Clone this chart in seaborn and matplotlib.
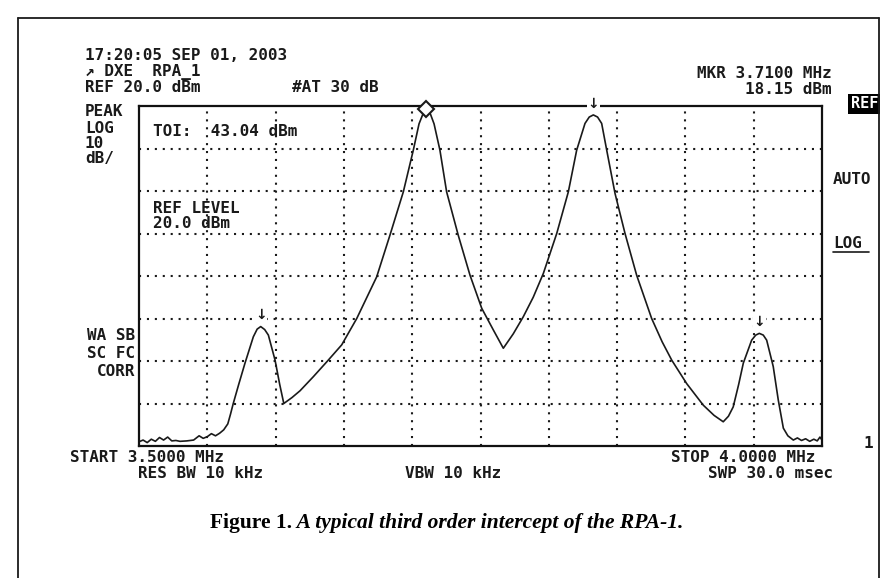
import numpy as np
import pandas as pd
import seaborn as sns
import matplotlib.pyplot as plt
from matplotlib.lines import Line2D
from matplotlib.patches import Rectangle

# analyser settings
START_MHZ = 3.5
STOP_MHZ = 4.0
REF_DBM = 20.0
DB_PER_DIV = 10
N_XDIV = 10
N_YDIV = 8
MKR_MHZ = 3.7100
MKR_DBM = 18.15
TOI_DBM = 43.04

# trace (MHz, dBm)
freq_mhz = [3.500, 3.503, 3.506, 3.509, 3.512, 3.515, 3.518, 3.521, 3.524, 3.527,
            3.530, 3.535, 3.540, 3.544, 3.547, 3.550, 3.553, 3.556, 3.559, 3.562,
            3.565, 3.567, 3.569, 3.573, 3.5776, 3.5837, 3.5865, 3.5891, 3.592, 3.5947,
            3.5996, 3.6030, 3.6060, 3.6120, 3.6179, 3.6276, 3.6380, 3.6484, 3.6594, 3.674,
            3.6837, 3.6935, 3.7008, 3.7050, 3.7082, 3.7106, 3.7130, 3.7160, 3.7203, 3.7252,
            3.7337, 3.7423, 3.7509, 3.7594, 3.7667, 3.7740, 3.7813, 3.7886, 3.796, 3.8058,
            3.8143, 3.8204, 3.8265, 3.8296, 3.8326, 3.8357, 3.8387, 3.8424, 3.8485, 3.8558,
            3.8643, 3.8753, 3.8830, 3.8900, 3.9009, 3.9131, 3.9210, 3.9277, 3.9315, 3.9350,
            3.9390, 3.9424, 3.9485, 3.9515, 3.9541, 3.9570, 3.9595, 3.9643, 3.9680, 3.9717,
            3.9750, 3.9790, 3.9820, 3.9850, 3.9880, 3.9910, 3.9940, 3.9965, 3.9985, 4.000]
level_dbm = [-59.0, -58.6, -59.2, -58.4, -58.9, -58.0, -58.6, -57.9, -58.8, -58.7,
             -58.9, -58.8, -58.6, -57.6, -58.2, -57.8, -57.1, -57.6, -57.0, -56.2,
             -54.8, -52.5, -50.0, -45.5, -40.5, -34.3, -32.5, -31.9, -32.6, -33.9,
             -39.8, -45.5, -50.0, -48.6, -47.0, -43.7, -40.0, -36.2, -30.0, -20.2,
             -10.4, -0.2, 9.6, 15.8, 18.4, 19.2, 18.4, 15.8, 9.6, -0.2,
             -10.4, -19.8, -27.6, -32.7, -37.0, -33.6, -29.6, -25.0, -19.4, -10.0,
             -0.2, 9.6, 15.9, 17.4, 17.9, 17.4, 15.9, 9.6, -0.6, -10.0,
             -19.8, -30.0, -35.5, -39.8, -45.3, -50.4, -52.8, -54.3, -53.0, -50.8,
             -45.5, -40.5, -35.1, -33.9, -33.5, -33.9, -35.1, -41.3, -49.2, -55.8,
             -57.6, -58.6, -58.1, -58.7, -58.3, -58.9, -58.4, -58.8, -57.9, -58.6]

# signal markers (arrows) at the second tone and both IM3 products
arrow_mhz = [3.5891, 3.8326, 3.9541]

W, H = 893, 578
INK = '#1a1a1a'
MONO = dict(family='DejaVu Sans Mono', weight='bold', size=11.5, color=INK)


def fx(x):
    return x / W


def fy(y):
    return 1 - y / H


sns.set_style('white')
fig = plt.figure(figsize=(W / 100, H / 100), dpi=100)
ax = fig.add_axes([fx(139), fy(446), 683 / W, 340 / H])

df = pd.DataFrame({'MHz': freq_mhz, 'dBm': level_dbm})
sns.lineplot(data=df, x='MHz', y='dBm', ax=ax, color=INK, linewidth=1.2,
             estimator=None, sort=False)

bottom = REF_DBM - DB_PER_DIV * N_YDIV
ax.set_xlim(START_MHZ, STOP_MHZ)
ax.set_ylim(bottom, REF_DBM)
ax.set_xticks(np.linspace(START_MHZ, STOP_MHZ, N_XDIV + 1)[1:-1])
ax.set_yticks(np.linspace(bottom, REF_DBM, N_YDIV + 1)[1:-1])
ax.grid(True, color=INK, linestyle=(0, (1, 2.8)), linewidth=1.5)
ax.tick_params(length=0, labelbottom=False, labelleft=False)
ax.set_xlabel('')
ax.set_ylabel('')
for s in ax.spines.values():
    s.set_linewidth(1.6)
    s.set_color('#111111')

# marker diamond on the main tone
pk = max(level_dbm)
ax.plot([MKR_MHZ], [pk], marker='D', markersize=8, markerfacecolor='white',
        markeredgecolor=INK, markeredgewidth=1.5, clip_on=False, zorder=5)
for f in arrow_mhz:
    lv = np.interp(f, freq_mhz, level_dbm)
    ax.annotate('\u2193', xy=(f, lv), xytext=(0, 3), textcoords='offset points',
                ha='center', va='bottom', fontsize=10, fontweight='bold', color=INK,
                family='DejaVu Sans', annotation_clip=False, zorder=6,
                bbox=dict(facecolor='white', edgecolor='none', pad=0.5))

# screen annotations
ax.text(0.02, 0.925, 'TOI:  %.2f dBm' % TOI_DBM, transform=ax.transAxes,
        va='center', ha='left', **MONO)
ax.text(0.02, 0.70, 'REF LEVEL', transform=ax.transAxes, va='center', ha='left', **MONO)
ax.text(0.02, 0.655, '%.1f dBm' % REF_DBM, transform=ax.transAxes, va='center', ha='left', **MONO)

left_lines = [(85, 56, '17:20:05 SEP 01, 2003'), (85, 72, '\u2197 DXE  RPA_1'),
              (85, 88, 'REF %.1f dBm' % REF_DBM), (85, 112, 'PEAK'), (85, 128, 'LOG'),
              (85, 143, '%d' % DB_PER_DIV), (85, 158, 'dB/'),
              (70, 458, 'START %.4f MHz' % START_MHZ), (138, 474, 'RES BW 10 kHz'),
              (405, 474, 'VBW 10 kHz'), (292, 88, '#AT 30 dB'),
              (833, 180, 'AUTO'), (833, 243, 'LOG')]
for x, y, s in left_lines:
    fig.text(fx(x), fy(y), s, ha='left', va='center', **MONO)

right_lines = [(832, 73, 'MKR %.4f MHz' % MKR_MHZ), (832, 89, '%.2f dBm' % MKR_DBM),
               (815, 458, 'STOP %.4f MHz' % STOP_MHZ), (833, 474, 'SWP 30.0 msec'),
               (135, 336, 'WA SB'), (135, 353, 'SC FC'), (135, 371, 'CORR'),
               (873, 443, '1')]
for x, y, s in right_lines:
    fig.text(fx(x), fy(y), s, ha='right', va='center', **MONO)

fig.text(fx(851), fy(104), 'REF', ha='left', va='center', family='DejaVu Sans Mono',
         weight='bold', size=11, color='white',
         bbox=dict(facecolor='black', edgecolor='none', pad=2))
fig.add_artist(Line2D([fx(833), fx(869)], [fy(252), fy(252)], color=INK, linewidth=1.2))

# caption, bold upright + bold italic, centred
cap_y = fy(523)
t1 = fig.text(0, cap_y, 'Figure 1.', family='Liberation Serif', weight='bold',
              size=15.5, va='center', ha='left', color='black')
t2 = fig.text(0, cap_y, ' A typical third order intercept of the RPA-1.',
              family='Liberation Serif', weight='bold', style='italic', size=15.5,
              va='center', ha='left', color='black')
r = fig.canvas.get_renderer()
w1 = t1.get_window_extent(r).width
w2 = t2.get_window_extent(r).width
x0 = 447 - (w1 + w2) / 2
t1.set_x(fx(x0))
t2.set_x(fx(x0 + w1))

# page frame, text beyond the right edge is cut off
fig.add_artist(Rectangle((fx(880), 0), 1 - fx(880), 1, transform=fig.transFigure,
                         facecolor='white', edgecolor='none', zorder=10))
for xs, ys in [([18, 18], [18, 578]), ([18, 879], [18, 18]), ([879, 879], [18, 578])]:
    fig.add_artist(Line2D([fx(v) for v in xs], [fy(v) for v in ys], color=INK,
                          linewidth=1.3, zorder=11))

fig.savefig('out.png', dpi=100)
